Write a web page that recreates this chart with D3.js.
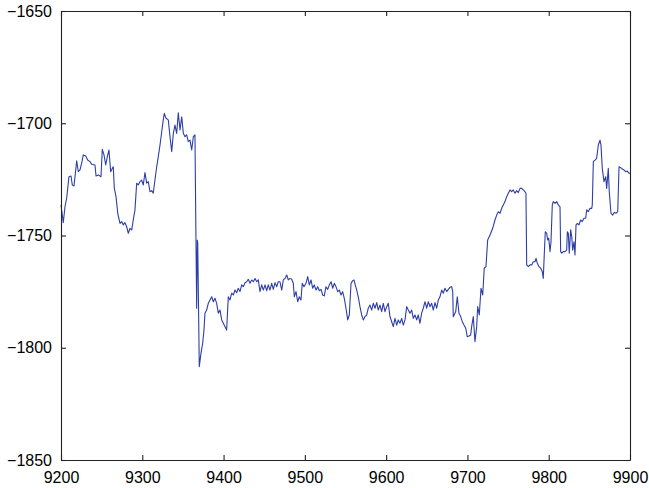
<!DOCTYPE html>
<html>
<head>
<meta charset="utf-8">
<script src="https://cdn.jsdelivr.net/npm/d3@7"></script>
<style>
  body { margin: 0; background: #fff; }
  svg { display: block; }
  .axis text { font-family: "Liberation Sans", Arial, sans-serif; font-size: 16px; fill: #000; }
  .axis path, .axis line { stroke: #222; stroke-width: 1.1px; }
  .trace { fill: none; stroke: #2d3ea9; stroke-width: 1.1px; stroke-linejoin: round; }
</style>
</head>
<body>
<svg id="chart"></svg>
<script>
// axis ranges and tick values
const xDomain = [9200, 9900];
const yDomain = [-1850, -1650];
const xTicks = [9200, 9300, 9400, 9500, 9600, 9700, 9800, 9900];
const yTicks = [-1850, -1800, -1750, -1700, -1650];

// [x, y] samples
const series = [
  [9200, -1736.4], [9202.8, -1744.3], [9204.9, -1737.2], [9207.0, -1733.3], [9209.8, -1723.8],
  [9212.3, -1723.5], [9213.9, -1727.5], [9216.0, -1727.9], [9218.1, -1720.8], [9219.3, -1716.7],
  [9221.3, -1721.6], [9223.4, -1720.8], [9225.5, -1717.7], [9227.4, -1714.1], [9230.4, -1714.6],
  [9232.8, -1716.4], [9235.7, -1717.1], [9237.8, -1718.3], [9241.8, -1718.6], [9243.1, -1723.5],
  [9245.9, -1723.0], [9249.2, -1723.8], [9250.8, -1711.6], [9252.9, -1714.1], [9255.0, -1718.6],
  [9257.0, -1714.9], [9259.0, -1711.9], [9261.1, -1721.6], [9263.1, -1720.1], [9264.3, -1719.4],
  [9265.6, -1729.0], [9267.7, -1732.7], [9269.8, -1740.1], [9272.6, -1744.6], [9274.7, -1743.8],
  [9276.6, -1745.3], [9278.7, -1744.3], [9280.8, -1746.1], [9282.8, -1749.0], [9284.9, -1746.8],
  [9287.0, -1747.5], [9288.9, -1743.1], [9291.0, -1738.6], [9293.1, -1726.7], [9295.1, -1727.5],
  [9297.2, -1726.0], [9299.3, -1725.3], [9301.2, -1727.5], [9303.3, -1722.0], [9305.4, -1726.7],
  [9307.4, -1726.0], [9309.5, -1730.5], [9311.6, -1730.0], [9313.5, -1731.2], [9315.6, -1725.3],
  [9317.7, -1719.4], [9319.7, -1714.9], [9321.8, -1709.7], [9323.9, -1703.8], [9325.8, -1698.5],
  [9327.1, -1695.6], [9329.2, -1697.8], [9332.0, -1698.5], [9334.1, -1706.0], [9336.2, -1712.7],
  [9338.2, -1704.5], [9340.2, -1700.8], [9342.3, -1704.5], [9344.3, -1695.3], [9346.4, -1703.0],
  [9348.5, -1697.1], [9350.5, -1704.5], [9352.5, -1706.0], [9354.6, -1705.2], [9356.6, -1708.2],
  [9358.7, -1707.5], [9360.8, -1711.9], [9362.8, -1706.0], [9364.8, -1705.2], [9366.0, -1750.5],
  [9366.9, -1782.4], [9367.7, -1752.0], [9368.2, -1753.3], [9370.1, -1808.4], [9372.2, -1802.5],
  [9374.3, -1798.0], [9375.9, -1792.1], [9377.1, -1784.6], [9379.2, -1783.2], [9381.2, -1780.2],
  [9383.3, -1778.7], [9385.4, -1777.3], [9387.4, -1779.5], [9389.5, -1778.0], [9391.5, -1780.2],
  [9393.5, -1784.6], [9395.6, -1783.2], [9397.7, -1787.6], [9399.7, -1789.1], [9401.8, -1790.6],
  [9403.8, -1792.1], [9405.8, -1777.3], [9407.9, -1778.7], [9410.0, -1775.7], [9412.0, -1776.5],
  [9414.1, -1774.3], [9416.1, -1775.5], [9418.1, -1773.5], [9420.2, -1775.0], [9422.3, -1772.0],
  [9424.3, -1772.8], [9426.4, -1771.0], [9428.4, -1770.6], [9430.4, -1769.5], [9432.5, -1771.3],
  [9434.6, -1769.8], [9436.6, -1770.6], [9438.7, -1769.1], [9440.8, -1770.6], [9442.7, -1769.8],
  [9444.8, -1775.0], [9446.9, -1772.0], [9448.9, -1774.3], [9451.0, -1772.0], [9453.1, -1774.6],
  [9455.0, -1772.0], [9457.1, -1774.3], [9459.2, -1771.3], [9461.2, -1774.0], [9463.3, -1771.0],
  [9465.4, -1772.8], [9467.3, -1770.6], [9469.4, -1770.6], [9471.5, -1774.3], [9473.5, -1769.8],
  [9475.6, -1769.1], [9477.7, -1767.6], [9479.6, -1769.8], [9481.7, -1769.1], [9483.8, -1769.5],
  [9485.8, -1771.3], [9487.0, -1777.3], [9489.1, -1775.0], [9491.2, -1779.5], [9493.2, -1777.3],
  [9495.2, -1778.7], [9496.8, -1771.3], [9498.9, -1772.8], [9501.4, -1771.3], [9503.5, -1768.3],
  [9505.5, -1772.0], [9507.6, -1769.8], [9509.6, -1773.5], [9511.6, -1772.0], [9513.7, -1774.3],
  [9515.8, -1772.8], [9517.8, -1774.6], [9519.9, -1774.0], [9521.9, -1776.5], [9523.9, -1776.9],
  [9526.0, -1772.8], [9528.1, -1774.0], [9530.1, -1772.0], [9532.2, -1770.6], [9534.3, -1773.5],
  [9536.2, -1771.3], [9538.3, -1772.8], [9540.4, -1775.0], [9542.4, -1774.3], [9544.5, -1776.5],
  [9546.5, -1775.0], [9548.5, -1778.0], [9550.6, -1782.4], [9552.7, -1787.6], [9554.7, -1785.4],
  [9556.8, -1771.3], [9558.9, -1770.1], [9560.4, -1769.8], [9562.0, -1772.0], [9563.8, -1774.3],
  [9565.7, -1777.3], [9567.8, -1781.7], [9569.9, -1785.4], [9571.9, -1787.6], [9574.0, -1786.1],
  [9576.1, -1785.4], [9578.0, -1782.4], [9580.1, -1781.0], [9582.2, -1783.2], [9584.2, -1780.2],
  [9586.3, -1782.4], [9588.4, -1779.9], [9590.3, -1783.2], [9592.4, -1781.0], [9594.5, -1783.9],
  [9596.5, -1780.2], [9598.6, -1783.9], [9600.7, -1781.7], [9602.6, -1780.2], [9604.7, -1786.1],
  [9606.8, -1788.4], [9608.8, -1790.6], [9610.9, -1786.9], [9613.0, -1789.9], [9614.9, -1787.6],
  [9617.0, -1789.1], [9619.1, -1786.9], [9621.1, -1789.9], [9623.2, -1787.6], [9625.3, -1781.7],
  [9627.3, -1783.2], [9629.3, -1784.6], [9631.4, -1783.2], [9633.4, -1786.9], [9635.5, -1785.4],
  [9637.6, -1787.6], [9639.5, -1785.4], [9641.6, -1789.1], [9643.7, -1784.6], [9645.7, -1782.4],
  [9647.8, -1779.5], [9649.9, -1782.4], [9651.9, -1779.5], [9653.9, -1781.7], [9656.0, -1780.2],
  [9658.0, -1783.2], [9660.1, -1779.9], [9662.2, -1782.4], [9664.2, -1778.7], [9666.2, -1777.3],
  [9668.3, -1774.3], [9670.3, -1775.7], [9672.4, -1773.5], [9674.5, -1775.0], [9676.5, -1774.0],
  [9678.5, -1773.1], [9680.6, -1772.8], [9681.9, -1775.0], [9682.6, -1786.2], [9685.6, -1783.9],
  [9687.5, -1777.3], [9689.6, -1784.6], [9691.7, -1786.1], [9693.7, -1788.4], [9695.8, -1789.9],
  [9697.9, -1791.3], [9699.8, -1795.1], [9701.9, -1794.8], [9704.0, -1794.3], [9705.2, -1790.6],
  [9707.2, -1786.1], [9709.3, -1797.3], [9711.4, -1790.6], [9712.6, -1781.7], [9714.6, -1785.4],
  [9716.7, -1773.5], [9718.8, -1776.5], [9720.7, -1764.6], [9722.8, -1763.9], [9724.9, -1752.0],
  [9727.8, -1749.8], [9731.1, -1746.8], [9733.9, -1743.1], [9736.0, -1740.9], [9738.0, -1739.4],
  [9740.1, -1740.1], [9742.1, -1737.9], [9744.1, -1736.4], [9746.2, -1734.9], [9748.3, -1732.7],
  [9750.3, -1731.2], [9752.4, -1729.7], [9754.4, -1730.5], [9756.4, -1729.7], [9758.5, -1731.2],
  [9760.6, -1730.0], [9762.6, -1730.9], [9764.7, -1729.0], [9766.8, -1729.0], [9768.7, -1729.7],
  [9770.8, -1730.5], [9772.0, -1731.2], [9772.9, -1763.1], [9774.9, -1763.9], [9777.0, -1763.1],
  [9779.1, -1763.1], [9781.0, -1761.7], [9783.1, -1761.7], [9784.4, -1760.2], [9786.0, -1762.4],
  [9788.0, -1763.9], [9790.1, -1764.6], [9792.1, -1766.1], [9793.3, -1769.1], [9794.6, -1757.9],
  [9795.8, -1748.3], [9797.5, -1749.0], [9798.7, -1752.0], [9800.0, -1751.2], [9801.6, -1757.2],
  [9802.8, -1752.8], [9804.4, -1736.4], [9805.6, -1734.9], [9807.7, -1735.7], [9809.8, -1734.9],
  [9811.8, -1736.4], [9813.9, -1737.2], [9814.7, -1757.2], [9816.0, -1757.9], [9817.9, -1757.2],
  [9820.0, -1757.2], [9822.1, -1756.5], [9822.9, -1748.3], [9824.1, -1749.0], [9825.3, -1757.9],
  [9827.0, -1747.5], [9828.3, -1750.5], [9829.5, -1756.5], [9831.1, -1752.8], [9832.3, -1758.7],
  [9833.6, -1745.3], [9835.2, -1744.6], [9837.2, -1745.3], [9839.3, -1743.1], [9841.3, -1743.8],
  [9843.4, -1742.3], [9845.5, -1742.3], [9846.7, -1738.6], [9848.7, -1739.4], [9850.8, -1737.9],
  [9852.9, -1737.9], [9853.6, -1736.4], [9854.9, -1717.1], [9856.9, -1716.4], [9859.0, -1715.6],
  [9861.0, -1709.7], [9863.1, -1707.5], [9864.3, -1709.7], [9865.9, -1720.1], [9868.0, -1726.0],
  [9870.1, -1723.8], [9871.3, -1729.0], [9873.3, -1720.1], [9874.5, -1730.5], [9876.6, -1740.1],
  [9878.7, -1740.9], [9880.7, -1739.7], [9882.8, -1740.1], [9884.9, -1739.4], [9886.5, -1719.4],
  [9888.5, -1719.8], [9890.5, -1720.4], [9892.6, -1720.8], [9894.7, -1721.6], [9896.7, -1721.3],
  [9898.8, -1722.3], [9900, -1722.3]
];

const width = 649, height = 488;
const margin = {top: 11, right: 19, bottom: 28, left: 61};
const innerW = width - margin.left - margin.right;
const innerH = height - margin.top - margin.bottom;
const tickLen = 5;

const svg = d3.select('#chart')
    .attr('width', width)
    .attr('height', height);

const g = svg.append('g')
    .attr('transform', `translate(${margin.left},${margin.top})`);

const x = d3.scaleLinear().domain(xDomain).range([0, innerW]);
const y = d3.scaleLinear().domain(yDomain).range([innerH, 0]);

const fmt = d => d < 0 ? '\u2212' + Math.abs(d) : String(d);

// data line
const line = d3.line()
    .x(d => x(d[0]))
    .y(d => y(d[1]));

g.append('path')
    .datum(series)
    .attr('class', 'trace')
    .attr('d', line);

// box axes, ticks pointing inward on all four sides
g.append('g')
    .attr('class', 'axis')
    .attr('transform', `translate(0,${innerH})`)
    .call(d3.axisBottom(x).tickValues(xTicks).tickFormat(fmt)
        .tickSizeInner(-tickLen).tickSizeOuter(0).tickPadding(12));

g.append('g')
    .attr('class', 'axis')
    .call(d3.axisTop(x).tickValues(xTicks).tickFormat('')
        .tickSizeInner(-tickLen).tickSizeOuter(0));

g.append('g')
    .attr('class', 'axis')
    .call(d3.axisLeft(y).tickValues(yTicks).tickFormat(fmt)
        .tickSizeInner(-tickLen).tickSizeOuter(0).tickPadding(9));

g.append('g')
    .attr('class', 'axis')
    .attr('transform', `translate(${innerW},0)`)
    .call(d3.axisRight(y).tickValues(yTicks).tickFormat('')
        .tickSizeInner(-tickLen).tickSizeOuter(0));
</script>
</body>
</html>
